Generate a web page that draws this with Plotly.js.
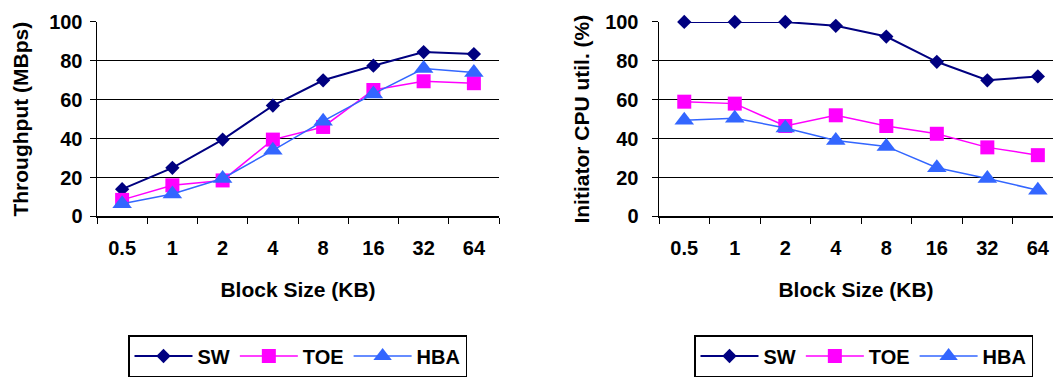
<!DOCTYPE html>
<html>
<head>
<meta charset="utf-8">
<script src="https://cdn.plot.ly/plotly-3.0.1.min.js"></script>
<style>html,body{margin:0;padding:0;background:#fff;}#chart{width:1053px;height:377px;}</style>
</head>
<body>
<div id="chart"></div>
<script>
var blockSizes = ["0.5", "1", "2", "4", "8", "16", "32", "64"];
var seriesNames = ["SW", "TOE", "HBA"];
var throughputSW  = [14, 25, 39.5, 57, 70, 77.5, 84.5, 83.5];
var throughputTOE = [8.5, 16, 18.5, 39.5, 46, 65, 69.5, 68.5];
var throughputHBA = [6.5, 11.5, 19.5, 34, 49, 63, 76, 74];
var cpuSW  = [100, 100, 100, 98, 92.5, 79.5, 70, 72];
var cpuTOE = [59, 58, 46.5, 52, 46.5, 42.5, 35.5, 31.5];
var cpuHBA = [49.5, 50.5, 45.5, 39, 36, 25, 19.5, 13.5];
var yTicks = [0, 20, 40, 60, 80, 100];

var F = "Liberation Sans, Arial, sans-serif";
var colors = ["#000080", "#FF00FF", "#3366FF"];
var symbols = ["diamond", "square", "triangle-up"];
var msizes = [11, 14, 17];
var lwidths = [2, 1.5, 1.5];

function mk(name, i, ys, xa, ya, lg) {
  return {
    type: "scatter", mode: "lines+markers", name: name,
    x: blockSizes, y: ys, xaxis: xa, yaxis: ya, legend: lg,
    line: {color: colors[i], width: lwidths[i]},
    marker: {symbol: symbols[i], size: msizes[i], color: colors[i]},
    cliponaxis: false
  };
}
var data = [
  mk(seriesNames[0], 0, throughputSW, "x", "y", "legend"),
  mk(seriesNames[1], 1, throughputTOE, "x", "y", "legend"),
  mk(seriesNames[2], 2, throughputHBA, "x", "y", "legend"),
  mk(seriesNames[0], 0, cpuSW, "x2", "y2", "legend2"),
  mk(seriesNames[1], 1, cpuTOE, "x2", "y2", "legend2"),
  mk(seriesNames[2], 2, cpuHBA, "x2", "y2", "legend2")
];

var tickFont = {family: F, size: 20, weight: "bold", color: "#000"};
var titleFont = {family: F, size: 21, weight: "bold", color: "#000"};

function xax(domain, anchor, range) {
  return {
    domain: domain, anchor: anchor, type: "category",
    categoryorder: "array", categoryarray: blockSizes,
    range: range, tickson: "boundaries",
    ticks: "outside", ticklen: 6, tickwidth: 1, tickcolor: "#000",
    showline: true, linecolor: "#000", linewidth: 1.5,
    showgrid: false, zeroline: false,
    tickfont: tickFont, ticklabelstandoff: 13,
    title: {text: "Block Size (KB)", font: titleFont, standoff: 24},
    fixedrange: true
  };
}
function yax(domain, anchor, title, tstand, lstand) {
  return {
    domain: domain, anchor: anchor, range: [0, 100],
    tickvals: yTicks, ticks: "outside", ticklen: 6, tickwidth: 1, tickcolor: "#000",
    showline: true, linecolor: "#000", linewidth: 1.5,
    showgrid: true, gridcolor: "#000", gridwidth: 1, zeroline: false,
    tickfont: tickFont, ticklabelstandoff: lstand,
    title: {text: title, font: titleFont, standoff: tstand},
    fixedrange: true
  };
}

var yd = [1 - 217 / 377, 1 - 22 / 377];
function leg(x) {
  return {
    orientation: "h", x: x, xanchor: "left", y: 1 - 336 / 377, yanchor: "top",
    bordercolor: "#000", borderwidth: 1.5, bgcolor: "#fff", itemwidth: 58,
    font: {family: F, size: 20, weight: "bold", color: "#000"}
  };
}
var layout = {
  width: 1053, height: 377,
  margin: {l: 0, r: 0, t: 0, b: 0},
  paper_bgcolor: "#fff", plot_bgcolor: "#fff",
  font: {family: F, color: "#000"},
  xaxis: xax([97 / 1053, 499 / 1053], "y", [-0.5, 7.5]),
  yaxis: yax(yd, "x", "Throughput (MBps)", 15, 3),
  xaxis2: xax([659 / 1053, 1], "y2", [-0.5, 7.3]),
  yaxis2: yax(yd, "x2", "Initiator CPU util. (%)", 10, 9),
  legend: leg(128 / 1053),
  legend2: leg(694 / 1053),
  showlegend: true
};
Plotly.newPlot("chart", data, layout, {displayModeBar: false, staticPlot: true});
</script>
</body>
</html>
